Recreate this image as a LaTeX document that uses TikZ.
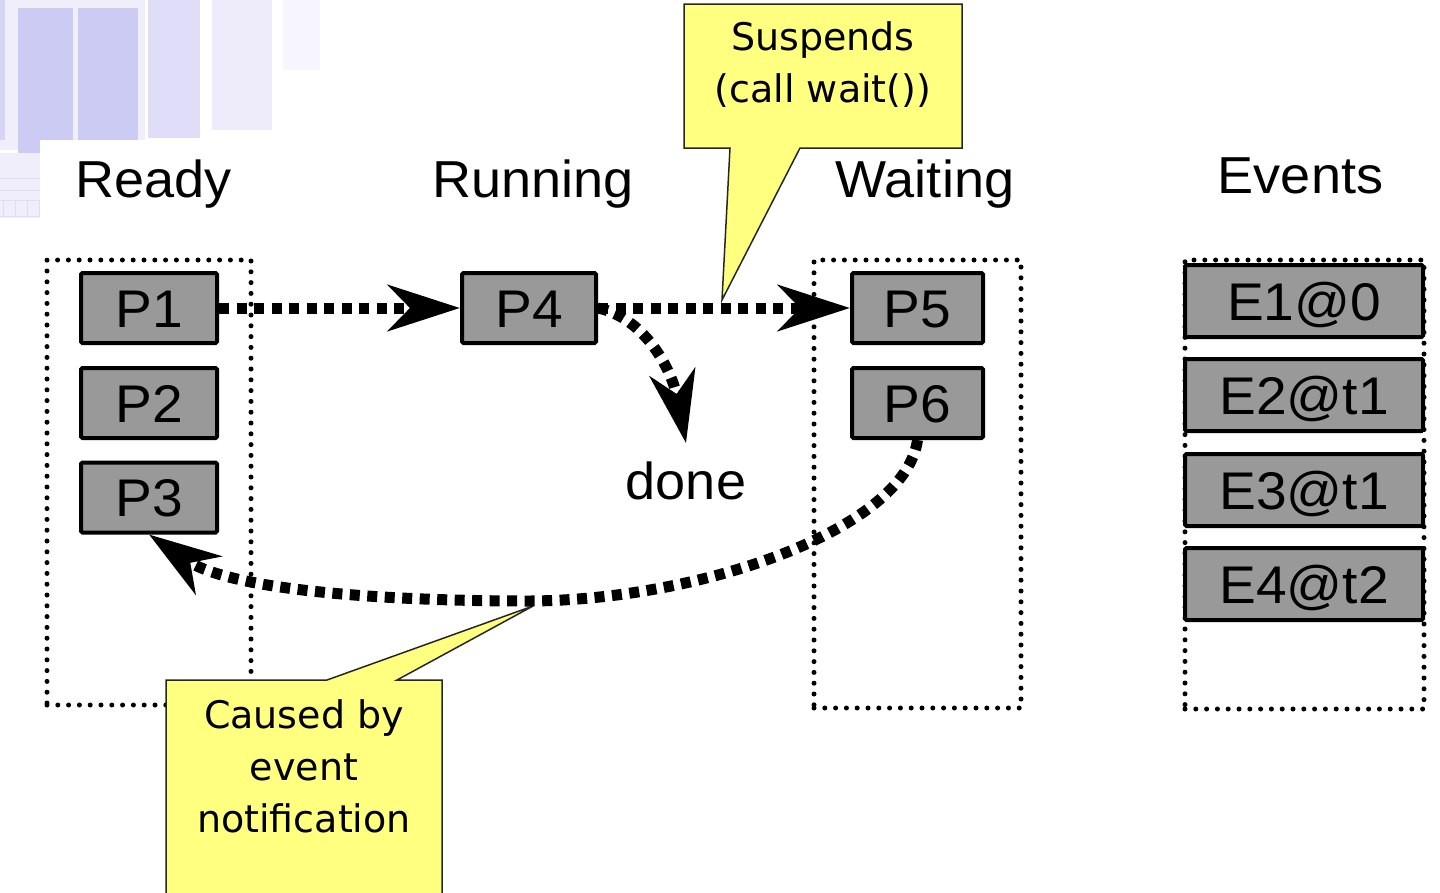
\documentclass[tikz,border=0pt]{standalone}
\usepackage{fontspec}
\setmainfont{Liberation Sans}[FakeStretch=1.04]
\newfontfamily\callfont{DejaVu Sans}
\usetikzlibrary{arrows.meta}
\definecolor{boxgray}{RGB}{153,153,153}
\definecolor{noteyellow}{RGB}{255,255,128}
\definecolor{lavA}{RGB}{204,203,244}
\definecolor{lavB}{RGB}{224,221,248}
\definecolor{lavC}{RGB}{238,235,251}
\definecolor{lavD}{RGB}{247,245,253}
\definecolor{lavE}{RGB}{241,238,251}
\begin{document}
\begin{tikzpicture}[x=1pt,y=-1pt,
  lbl/.style={font=\fontsize{52}{60}\selectfont, inner sep=0pt, anchor=base},
  container/.style={draw, line width=5pt, dash pattern=on 0pt off 10.8pt, line cap=round, inner sep=0pt, outer sep=0pt},
  pbox/.style={draw, fill=boxgray, line width=4pt, rounded corners=1.5pt, font=\fontsize{53}{60}\selectfont, text height=38pt, text depth=0pt, inner sep=0pt, minimum height=70pt},
  flow/.style={line width=11pt, dash pattern=on 10pt off 7.5pt, -{Stealth[length=72pt,width=46pt,inset=22pt]}},
  note/.style={fill=noteyellow, draw=black!85, line width=1.5pt, line join=miter},
  notetext/.style={font=\callfont\fontsize{38}{52}\selectfont, align=center, inner sep=0pt, anchor=north}
]
\useasboundingbox (0,0) rectangle (1440,892);
\fill[white] (0,0) rectangle (1440,892);
% faded background decoration (top-left)
\fill[lavE] (0,0) rectangle (145,150);
\fill[lavA!80!white] (0,0) rectangle (5,140);
\fill[lavA] (18,8) rectangle (73,153);
\fill[lavA] (78,8) rectangle (138,140);
\fill[lavB] (148,0) rectangle (200,138);
\fill[lavC] (212,0) rectangle (272,130);
\fill[lavD] (283,0) rectangle (320,70);
\fill[white] (40,140) rectangle (330,230);
\fill[lavE] (0,153) rectangle (40,218);
\draw[lavB, line width=0.8pt] (0,178) -- (40,178) (0,190) -- (40,190) (0,200) -- (40,200) (0,216) -- (40,216);
\foreach \i in {0,...,3} {\draw[lavB, line width=0.8pt] (3+12*\i,200) -- (3+12*\i,216);}
% column titles
\node[lbl] (tready) at (153.5,197) {Ready};
\node[lbl] (trun) at (533,197) {Running};
\node[lbl] (twait) at (925,197) {Waiting};
\node[lbl] (tev) at (1300.5,193) {Events};
% containers
\node[container, minimum width=204pt, minimum height=445pt] (ready) at (149,482.5) {};
\node[container, minimum width=207pt, minimum height=448pt] (waiting) at (917.5,484) {};
\node[container, minimum width=239pt, minimum height=449pt] (events) at (1304.5,484.5) {};
% callouts
\coordinate (tip1) at (722,300);
\coordinate (tip2) at (533,606);
\draw[note] (684,4) -- (962,4) -- (962,148) -- (800,148) -- (tip1) -- (730,148) -- (684,148) -- cycle;
\draw[note] (166,900) -- (166,680) -- (327,680) -- (tip2) -- (397,680) -- (442,680) -- (442,900) -- cycle;
\node[notetext] (sus) at (823,21) {Suspends\\(call wait())};
\node[notetext] (cause) at (304,699) {Caused by\\event\\notification};
% process boxes
\node[pbox, minimum width=136pt] (p1) at (149,308) {P1};
\node[pbox, minimum width=136pt] (p2) at (149,403) {P2};
\node[pbox, minimum width=136pt] (p3) at (149,497.5) {P3};
\node[pbox, minimum width=134pt] (p4) at (529,308) {P4};
\node[pbox, minimum width=131pt] (p5) at (917.5,308) {P5};
\node[pbox, minimum width=131pt] (p6) at (917.5,403) {P6};
% events
\node[pbox, minimum width=238pt, minimum height=72pt] (e1) at (1304,301) {E1@0};
\node[pbox, minimum width=238pt, minimum height=72pt] (e2) at (1304,395) {E2@t1};
\node[pbox, minimum width=238pt, minimum height=72pt] (e3) at (1304,490) {E3@t1};
\node[pbox, minimum width=238pt, minimum height=72pt] (e4) at (1304,584) {E4@t2};
% done
\node[lbl] (done) at (686,499) {done};
% arrows
\coordinate (bot) at (530,601);
\draw[flow] (p1.east) -- (p4.west);
\draw[flow] (p4.east) -- (p5.west);
\draw[flow] (p4.east) .. controls (645,318) and (672,370) .. ([yshift=18pt]done.north);
\draw[flow] (p6.south) .. controls (905,530) and (700,600) .. (bot) .. controls (380,601) and (230,590) .. (p3.south);
\end{tikzpicture}
\end{document}
